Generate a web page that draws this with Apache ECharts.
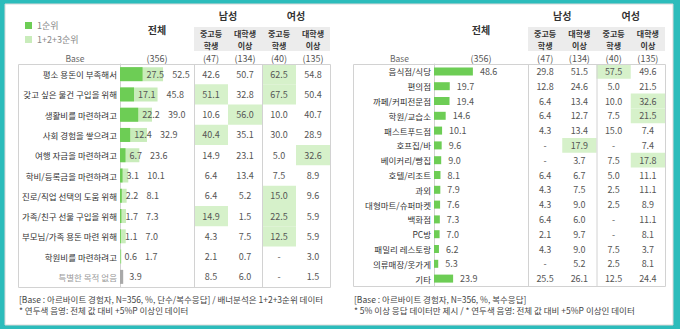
<!DOCTYPE html>
<html><head><meta charset="utf-8">
<script src="https://cdn.jsdelivr.net/npm/echarts@6/dist/echarts.min.js"></script>
<style>html,body{margin:0;padding:0;background:#2cbcbb}#c{width:680px;height:329px}</style>
</head><body><div id="c"></div>
<script>
// ---------------- data ----------------
const seriesNames = ['1순위', '1+2+3순위'];
const leftRows = ['평소 용돈이 부족해서','갖고 싶은 물건 구입을 위해','생활비를 마련하려고','사회 경험을 쌓으려고','여행 자금을 마련하려고','학비/등록금을 마련하려고','진로/직업 선택의 도움 위해','가족/친구 선물 구입을 위해','부모님/가족 용돈 마련 위해','학원비를 마련하려고','특별한 목적 없음'];
const leftFirst = [27.5,17.1,22.2,12.4,6.7,3.1,2.2,1.7,1.1,0.6,null];
const leftTotal = [52.5,45.8,39.0,32.9,23.6,10.1,8.1,7.3,7.0,1.7,3.9];
const leftMaleMid = [42.6,51.1,10.6,40.4,14.9,6.4,6.4,14.9,4.3,2.1,8.5];
const leftMaleUniv = [50.7,32.8,56.0,35.1,23.1,13.4,5.2,1.5,7.5,0.7,6.0];
const leftFemMid = [62.5,67.5,10.0,30.0,5.0,7.5,15.0,22.5,12.5,null,null];
const leftFemUniv = [54.8,50.4,40.7,28.9,32.6,8.9,9.6,5.9,5.9,3.0,1.5];

const rightRows = ['음식점/식당','편의점','까페/커피전문점','학원/교습소','패스트푸드점','호프집/바','베이커리/빵집','호텔/리조트','과외','대형마트/슈퍼마켓','백화점','PC방','패밀리 레스토랑','의류매장/옷가게','기타'];
const rightTotal = [48.6,19.7,19.4,14.6,10.1,9.6,9.0,8.1,7.9,7.6,7.3,7.0,6.2,5.3,23.9];
const rightMaleMid = [29.8,12.8,6.4,6.4,4.3,null,null,6.4,4.3,4.3,6.4,2.1,4.3,null,25.5];
const rightMaleUniv = [51.5,24.6,13.4,12.7,13.4,17.9,3.7,6.7,7.5,9.0,6.0,9.7,9.0,5.2,26.1];
const rightFemMid = [57.5,5.0,10.0,7.5,15.0,null,7.5,5.0,2.5,2.5,null,null,7.5,2.5,12.5];
const rightFemUniv = [49.6,21.5,32.6,21.5,7.4,7.4,17.8,11.1,11.1,8.9,11.1,8.1,3.7,8.1,24.4];

const totalHeader = '전체';
const groupHeaders = ['남성','여성'];
const subHeaders = [['중고등','학생'],['대학생','이상'],['중고등','학생'],['대학생','이상']];
const baseLabel = 'Base';
const bases = [356,47,134,40,135];
const mutedRow = '특별한 목적 없음';
const leftNotes = ['[Base : 아르바이트 경험자, N=356, %, 단수/복수응답] / 배너분석은 1+2+3순위 데이터','* 연두색 음영: 전체 값 대비 +5%P 이상인 데이터'];
const rightNotes = ['[Base : 아르바이트 경험자, N=356, %, 복수응답]','* 5% 이상 응답 데이터만 제시 / * 연두색 음영: 전체 값 대비 +5%P 이상인 데이터'];
const highlightThreshold = 5;

// ---------------- styles / layout ----------------
const FONT = '"Noto Sans CJK KR", "Noto Sans", sans-serif';
const C_DARK = '#6dcd55', C_LIGHT = '#c9ecbb', C_HL = '#d6f1ca', C_GRAY = '#a9a9a9';
const C_LINE = '#d2d2d2', C_NUM = '#555', C_LBL = '#333';
const NUM_SIZE = 9;
const L = {tableL:18, barL:120, barW:82, cellL:194, cellW:136, tableR:330, top:64, bottom:287};
const R = {tableL:353, barL:434, barW:80, cellL:528, cellW:137, tableR:665, top:64, bottom:286};

function fmt(v){ return v == null ? '-' : v.toFixed(1); }
function txt(text, x, y, o){
  o = o || {};
  return {type:'text', x:x, y:y, z:o.z||5, style:{text:text, fill:o.fill||C_LBL, fontSize:o.size||9, fontFamily:FONT,
    fontWeight:o.weight||'normal', align:o.align||'center', textAlign:o.align||'center',
    verticalAlign:'middle', textVerticalAlign:'middle'}};
}
function line(x1,y1,x2,y2){
  return {type:'line', z:10, shape:{x1:x1,y1:y1,x2:x2,y2:y2}, style:{stroke:C_LINE, lineWidth:1}};
}
function numText(v, x, y, align){
  return {type:'text', style:{text:fmt(v), x:x, y:y, fill:C_NUM, fontSize:NUM_SIZE, fontFamily:FONT,
    align:align, textAlign:align, verticalAlign:'middle', textVerticalAlign:'middle'}};
}

function cellData(total, cols){
  const out = [];
  cols.forEach((arr, j) => arr.forEach((v, i) => {
    const hl = v != null && (v - total[i]) >= highlightThreshold - 1e-9;
    out.push({value:[j, i, v == null ? 0 : v], raw:v, hl:hl});
  }));
  return out;
}
const leftCells = cellData(leftTotal, [leftMaleMid, leftMaleUniv, leftFemMid, leftFemUniv]);
const rightCells = cellData(rightTotal, [rightMaleMid, rightMaleUniv, rightFemMid, rightFemUniv]);

function cellRenderer(cells){
  return function(params, api){
    const d = cells[params.dataIndex];
    const c = api.coord([api.value(0), api.value(1)]);
    const s = api.size([1, 1]);
    const kids = [];
    if (d.hl) kids.push({type:'rect', shape:{x:c[0]-s[0]/2, y:c[1]-s[1]/2, width:s[0], height:s[1]}, style:{fill:C_HL}});
    kids.push(numText(d.raw, c[0], c[1], 'center'));
    return {type:'group', children:kids};
  };
}

function leftLabelRender(params, api){
  const i = params.dataIndex;
  const f = leftFirst[i], t = leftTotal[i];
  const pt = api.coord([t, i]);
  const kids = [];
  let x2;
  if (f != null){
    const pf = api.coord([f, i]);
    const x1 = pf[0] + 4;
    kids.push(numText(f, x1, pf[1], 'left'));
    const w1 = fmt(f).length * 5.2;
    x2 = Math.max(pt[0] + 9, x1 + w1 + 5);
  } else {
    x2 = pt[0] + 6;
  }
  kids.push(numText(t, x2, pt[1], 'left'));
  return {type:'group', children:kids};
}

// ---------------- graphics (frame, headers, notes) ----------------
const g = [];
g.push({type:'rect', z:-10, shape:{x:5, y:4, width:668, height:321}, style:{fill:'#fff', stroke:'#d8d8d8', lineWidth:1}});
function panelHeaders(P, notes){
  const colC = j => P.cellL + P.cellW*(j+0.5)/4;
  const totC = (P.barL + P.cellL)/2;
  g.push({type:'rect', z:1, shape:{x:P.cellL, y:27, width:P.cellW, height:24}, style:{fill:'#ececec'}});
  g.push(txt(totalHeader, totC, 29, {weight:'bold', size:10}));
  groupHeaders.forEach((h, k) => g.push(txt(h, (colC(2*k)+colC(2*k+1))/2, 15, {weight:'bold', size:10})));
  subHeaders.forEach((h, j) => {
    g.push(txt(h[0], colC(j), 33, {weight:'bold', size:8}));
    g.push(txt(h[1], colC(j), 45, {weight:'bold', size:8}));
  });
  g.push(txt(baseLabel, (P.tableL + P.barL)/2 + 6, 58, {size:8.5, fill:'#666'}));
  g.push(txt('(' + bases[0] + ')', totC, 58, {size:9, fill:C_NUM}));
  bases.slice(1).forEach((b, j) => g.push(txt('(' + b + ')', colC(j), 58, {size:9, fill:C_NUM})));
  g.push(line(P.tableL+0.5, P.top+0.5, P.tableR+0.5, P.top+0.5));
  g.push(line(P.tableL+0.5, P.bottom+0.5, P.tableR+0.5, P.bottom+0.5));
  g.push(line(P.tableL+0.5, P.top+0.5, P.tableL+0.5, P.bottom+0.5));
  g.push(line(P.tableR+0.5, P.top+0.5, P.tableR+0.5, P.bottom+0.5));
  g.push(line(P.cellL+0.5, P.top+0.5, P.cellL+0.5, P.bottom+0.5));
  g.push(line(P.cellL+P.cellW/2+0.5, P.top+0.5, P.cellL+P.cellW/2+0.5, P.bottom+0.5));
  notes.forEach((n, k) => g.push(txt(n, P.tableL+1, 299 + k*11, {align:'left', size:8.5, fill:'#444'})));
}
panelHeaders(L, leftNotes);
panelHeaders(R, rightNotes);

// ---------------- chart ----------------
const chart = echarts.init(document.getElementById('c'), null, {renderer:'svg'});
const catAxisLabel = {fontSize:8.5, color:C_LBL, margin:3, fontFamily:FONT};
chart.setOption({
  backgroundColor:'#2cbcbb',
  animation:false,
  textStyle:{fontFamily:FONT},
  legend:{data:seriesNames.slice(), orient:'vertical', left:20, top:16, itemWidth:7, itemHeight:7, itemGap:5,
    icon:'rect', textStyle:{fontSize:9, color:'#888', fontFamily:FONT}, selectedMode:false},
  grid:[
    {left:L.barL, top:L.top, width:L.barW, height:L.bottom-L.top},
    {left:L.cellL, top:L.top, width:L.cellW, height:L.bottom-L.top},
    {left:R.barL, top:R.top, width:R.barW, height:R.bottom-R.top},
    {left:R.cellL, top:R.top, width:R.cellW, height:R.bottom-R.top}
  ],
  xAxis:[
    {gridIndex:0, type:'value', min:0, max:100, show:false},
    {gridIndex:1, type:'category', data:[0,1,2,3], show:false},
    {gridIndex:2, type:'value', min:0, max:100, show:false},
    {gridIndex:3, type:'category', data:[0,1,2,3], show:false}
  ],
  yAxis:[
    {gridIndex:0, type:'category', inverse:true,
      data:leftRows.map(r => r === mutedRow ? {value:r, textStyle:{color:'#999'}} : r),
      axisTick:{show:false}, axisLine:{show:true, lineStyle:{color:C_LINE}}, axisLabel:catAxisLabel},
    {gridIndex:1, type:'category', inverse:true, data:leftRows, show:false},
    {gridIndex:2, type:'category', inverse:true, data:rightRows,
      axisTick:{show:false}, axisLine:{show:true, lineStyle:{color:C_LINE}}, axisLabel:catAxisLabel},
    {gridIndex:3, type:'category', inverse:true, data:rightRows, show:false}
  ],
  series:[
    {name:seriesNames[1], type:'bar', xAxisIndex:0, yAxisIndex:0, barWidth:14, barGap:'-100%', itemStyle:{color:C_LIGHT},
      data:leftTotal.map((v, i) => leftRows[i] === mutedRow ? {value:v, itemStyle:{color:C_GRAY}} : v)},
    {name:seriesNames[0], type:'bar', xAxisIndex:0, yAxisIndex:0, barWidth:14, barGap:'-100%', itemStyle:{color:C_DARK},
      data:leftFirst.map(v => v == null ? '-' : v)},
    {type:'custom', xAxisIndex:0, yAxisIndex:0, z:5, data:leftTotal.map((v, i) => [v, i]),
      encode:{x:0, y:1}, renderItem:leftLabelRender},
    {type:'custom', xAxisIndex:1, yAxisIndex:1, data:leftCells, encode:{x:0, y:1}, renderItem:cellRenderer(leftCells)},
    {name:'right', type:'bar', xAxisIndex:2, yAxisIndex:2, barWidth:8, itemStyle:{color:C_DARK}, data:rightTotal,
      label:{show:true, position:'right', distance:7, fontSize:NUM_SIZE, color:C_NUM, fontFamily:FONT, formatter:p => fmt(p.value)}},
    {type:'custom', xAxisIndex:3, yAxisIndex:3, data:rightCells, encode:{x:0, y:1}, renderItem:cellRenderer(rightCells)}
  ],
  graphic:g
});
</script>
</body></html>
